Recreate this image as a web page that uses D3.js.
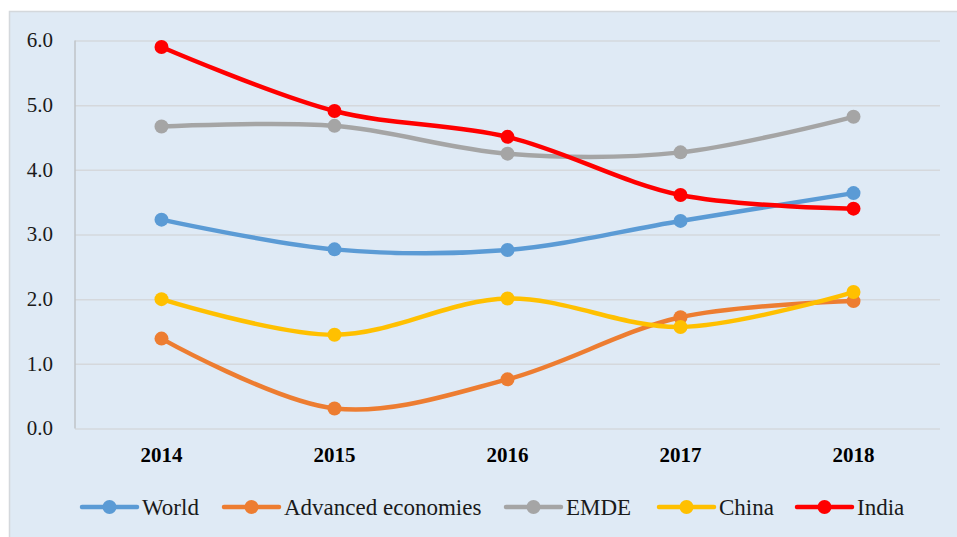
<!DOCTYPE html>
<html>
<head>
<meta charset="utf-8">
<script src="https://cdn.jsdelivr.net/npm/d3@7"></script>
<style>
  body { margin: 0; background: #ffffff; }
  svg text { font-family: "Liberation Serif", "Times New Roman", serif; }
</style>
</head>
<body>
<div id="chart"></div>
<script>
"use strict"

/* Data */
let years = ["2014", "2015", "2016", "2017", "2018"];
let world = [3.23, 2.77, 2.76, 3.21, 3.64];
let advanced = [1.39, 0.31, 0.76, 1.72, 1.97];
let emde = [4.67, 4.68, 4.25, 4.27, 4.82];
let china = [2.00, 1.45, 2.01, 1.57, 2.11];
let india = [5.90, 4.91, 4.51, 3.61, 3.40];
let seriesNames = ["World", "Advanced economies", "EMDE", "China", "India"];
let yTicks = [0, 1, 2, 3, 4, 5, 6];

let colors = ["#5b9bd5", "#ed7d31", "#a5a5a5", "#ffc000", "#ff0000"];
let seriesValues = [world, advanced, emde, china, india];

/* Drawing setup */
let svgWidth = 957;
let svgHeight = 537;
let plotLeft = 75, plotRight = 940, plotTop = 40.5, plotBottom = 428.5;
let serif = "'Liberation Serif', 'Times New Roman', serif";

let svg = d3.select("#chart")
    .append("svg")
    .attr("width", svgWidth)
    .attr("height", svgHeight)
    .attr("font-family", serif);

/* background panel */
svg.append("rect")
    .attr("x", 9.5)
    .attr("y", 11.5)
    .attr("width", svgWidth)
    .attr("height", svgHeight)
    .attr("fill", "#dfeaf5")
    .attr("stroke", "#d4d8dc")
    .attr("stroke-width", 1.5);

let xScale = d3.scaleBand()
    .domain(years)
    .range([plotLeft, plotRight]);

let yScale = d3.scaleLinear()
    .domain([0, 6])
    .range([plotBottom, plotTop]);

/* gridlines + y labels */
let yAxis = d3.axisLeft(yScale)
    .tickValues(yTicks)
    .tickSize(-(plotRight - plotLeft))
    .tickFormat(d3.format(".1f"));

let yG = svg.append("g")
    .attr("transform", "translate(" + plotLeft + ",0)")
    .call(yAxis)
    .attr("font-family", serif);
yG.select(".domain").remove();
yG.selectAll(".tick line")
    .attr("stroke", "#d5d8dc")
    .attr("stroke-width", 1.5);
yG.selectAll(".tick text")
    .attr("font-size", 21)
    .attr("fill", "#1a1a1a")
    .attr("x", -22)
    .attr("dy", "0.3em");

/* vertical axis line */
svg.append("line")
    .attr("x1", plotLeft)
    .attr("x2", plotLeft)
    .attr("y1", plotTop)
    .attr("y2", plotBottom)
    .attr("stroke", "#bfc3c7")
    .attr("stroke-width", 1.5);

/* x labels */
let xAxis = d3.axisBottom(xScale).tickSize(0).tickPadding(19);
let xG = svg.append("g")
    .attr("transform", "translate(0," + plotBottom + ")")
    .call(xAxis)
    .attr("font-family", serif);
xG.select(".domain").remove();
xG.selectAll(".tick text")
    .attr("font-size", 21)
    .attr("font-weight", "bold")
    .attr("fill", "#000");

/* lines and markers */
let line = d3.line()
    .x(function (d, i) { return xScale(years[i]) + xScale.bandwidth() / 2; })
    .y(function (d) { return yScale(d); })
    .curve(d3.curveCatmullRom.alpha(0.5));

seriesValues.forEach(function (vals, s) {
    svg.append("path")
        .datum(vals)
        .attr("fill", "none")
        .attr("stroke", colors[s])
        .attr("stroke-width", 4.5)
        .attr("stroke-linecap", "round")
        .attr("d", line);
});

seriesValues.forEach(function (vals, s) {
    svg.selectAll(null)
        .data(vals)
        .join("circle")
        .attr("cx", function (d, i) { return xScale(years[i]) + xScale.bandwidth() / 2; })
        .attr("cy", function (d) { return yScale(d); })
        .attr("r", 7)
        .attr("fill", colors[s]);
});

/* legend */
let legendX = [82, 224, 506, 659, 797];
let legendY = 507;
seriesNames.forEach(function (name, s) {
    let g = svg.append("g").attr("transform", "translate(" + legendX[s] + "," + legendY + ")");
    g.append("line")
        .attr("x1", 0).attr("x2", 55)
        .attr("stroke", colors[s])
        .attr("stroke-width", 4.5)
        .attr("stroke-linecap", "round");
    g.append("circle")
        .attr("cx", 27.5)
        .attr("r", 7)
        .attr("fill", colors[s]);
    g.append("text")
        .attr("x", 60)
        .attr("y", 8)
        .attr("font-size", 23)
        .attr("fill", "#1a1a1a")
        .text(name);
});
</script>
</body>
</html>
